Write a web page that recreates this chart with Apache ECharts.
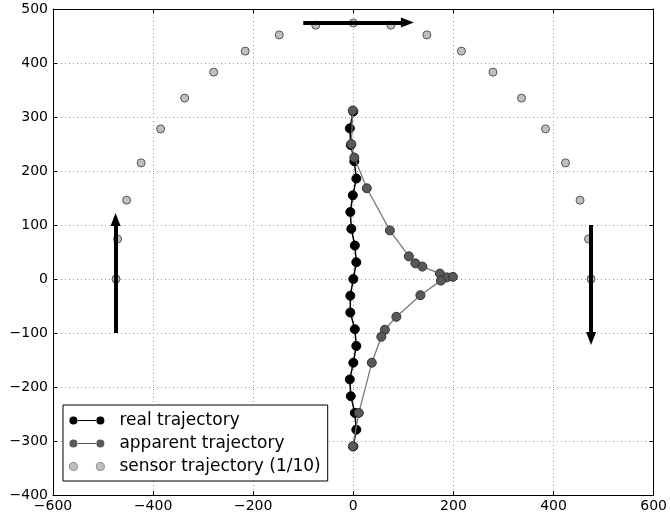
<!DOCTYPE html>
<html>
<head>
<meta charset="utf-8">
<script src="https://cdn.jsdelivr.net/npm/echarts@6/dist/echarts.min.js"></script>
<style>
  html, body { margin: 0; padding: 0; background: #fff; }
  #chart { width: 670px; height: 516px; }
</style>
</head>
<body>
<div id="chart"></div>
<script>
// real trajectory (black)
const realX = [0, -7, -5, 2, 6, -1, -6, -4, 3, 6, 0, -6, -6, 3, 6, 0, -7, -5, 3, 6, 0];
const realY = [310, 279, 248, 218, 186, 155, 124, 93, 62, 31, 0, -31, -62, -93, -124, -155, -186, -217, -248, -279, -310];

// apparent trajectory (dark grey)
const appX = [-1, -4, 2, 27, 73, 111, 124, 138, 173, 187, 199, 175, 134, 86, 63, 56, 37, 11, -1];
const appY = [312, 250, 225, 168, 90, 42, 29, 23, 10, 3, 4, -3, -30, -70, -94, -107, -155, -248, -310];

// sensor trajectory (1/10), light grey
const sensX = [-474, -471, -453, -424, -385, -337, -279, -216, -148, -75, 0, 75, 147, 216, 279, 336, 384, 424, 453, 470, 475];
const sensY = [0, 74, 146, 215, 278, 335, 383, 422, 452, 470, 474, 470, 452, 422, 383, 335, 278, 215, 146, 74, 0];

// direction arrows: [x0, y0, x1, y1] (end = centre of the arrow head)
const arrows = [
  [-475, -100, -475, 110],
  [-100, 475, 108, 475],
  [475, 100, 475, -110]
];

const xTicks = { min: -600, max: 600, step: 200 };
const yTicks = { min: -400, max: 500, step: 100 };

const pairs = (xs, ys) => xs.map((x, i) => [x, ys[i]]);
const minus = v => String(v).replace('-', '\u2212');

// legend icons: two markers joined by a thin line (matplotlib style)
const twoDots = 'path://M0.5,5a4.5,4.5 0 1,0 9,0a4.5,4.5 0 1,0 -9,0Z M30.5,5a4.5,4.5 0 1,0 9,0a4.5,4.5 0 1,0 -9,0Z M9,4.35h22v1.3h-22Z';
const twoDotsNoLine = 'path://M0.5,5a4.5,4.5 0 1,0 9,0a4.5,4.5 0 1,0 -9,0Z M30.5,5a4.5,4.5 0 1,0 9,0a4.5,4.5 0 1,0 -9,0Z';

const font = 'DejaVu Sans';
const dotted = { color: '#999', type: [1, 3], width: 1 };

const mainAxis = (r, pos, margin) => ({
  type: 'value',
  position: pos,
  min: r.min, max: r.max, interval: r.step,
  axisLine: { show: true, onZero: false, lineStyle: { color: '#000', width: 1 } },
  axisTick: { show: true, inside: true, length: 4, lineStyle: { color: '#000' } },
  axisLabel: { show: true, color: '#000', fontFamily: font, fontSize: 14, margin: margin, formatter: minus },
  splitLine: { show: true, lineStyle: dotted }
});
const sideAxis = (r, pos) => ({
  type: 'value',
  position: pos,
  min: r.min, max: r.max, interval: r.step,
  axisLine: { show: true, onZero: false, lineStyle: { color: '#000', width: 1 } },
  axisTick: { show: true, inside: true, length: 4, lineStyle: { color: '#000' } },
  axisLabel: { show: false },
  splitLine: { show: false }
});

const chart = echarts.init(document.getElementById('chart'));
chart.setOption({
  animation: false,
  backgroundColor: '#fff',
  grid: { left: 53, right: 13, top: 9, bottom: 21 },
  xAxis: [mainAxis(xTicks, 'bottom', 4), sideAxis(xTicks, 'top')],
  yAxis: [mainAxis(yTicks, 'left', 5), sideAxis(yTicks, 'right')],
  legend: {
    orient: 'vertical',
    left: 63, top: 405,
    padding: [7, 7, 6, 6],
    itemGap: 6,
    itemWidth: 35, itemHeight: 9,
    borderColor: '#000', borderWidth: 1,
    borderRadius: 0,
    backgroundColor: '#fff',
    textStyle: { fontFamily: font, fontSize: 17, color: '#000', padding: [0, 0, 0, 10] },
    data: [
      { name: 'real trajectory', icon: twoDots, itemStyle: { color: '#000', borderWidth: 0 } },
      { name: 'apparent trajectory', icon: twoDots, itemStyle: { color: '#595959', borderWidth: 0 } },
      { name: 'sensor trajectory (1/10)', icon: twoDotsNoLine, itemStyle: { color: '#bfbfbf', borderColor: '#777', borderWidth: 0.8 } }
    ]
  },
  series: [
    {
      name: 'arrows',
      type: 'scatter',
      data: [],
      z: 1,
      silent: true,
      markLine: {
        silent: true,
        animation: false,
        symbol: ['none', 'triangle'],
        symbolSize: [10, 13],
        label: { show: false },
        lineStyle: { color: '#000', width: 4, type: 'solid' },
        itemStyle: { color: '#000' },
        emphasis: { disabled: true },
        data: arrows.map(a => [{ coord: [a[0], a[1]] }, { coord: [a[2], a[3]] }])
      }
    },
    {
      name: 'real trajectory',
      type: 'line',
      data: pairs(realX, realY),
      z: 2,
      symbol: 'circle',
      symbolSize: 9,
      showAllSymbol: true,
      lineStyle: { color: '#000', width: 1.5 },
      itemStyle: { color: '#000', borderColor: '#000', borderWidth: 1 }
    },
    {
      name: 'apparent trajectory',
      type: 'line',
      data: pairs(appX, appY),
      z: 3,
      symbol: 'circle',
      symbolSize: 9,
      showAllSymbol: true,
      lineStyle: { color: '#7a7a7a', width: 1.3 },
      itemStyle: { color: '#595959', borderColor: '#333', borderWidth: 1 }
    },
    {
      name: 'sensor trajectory (1/10)',
      type: 'scatter',
      data: pairs(sensX, sensY),
      z: 4,
      symbol: 'circle',
      symbolSize: 8,
      itemStyle: { color: '#bfbfbf', borderColor: '#555', borderWidth: 1, opacity: 1 }
    }
  ]
});
</script>
</body>
</html>
